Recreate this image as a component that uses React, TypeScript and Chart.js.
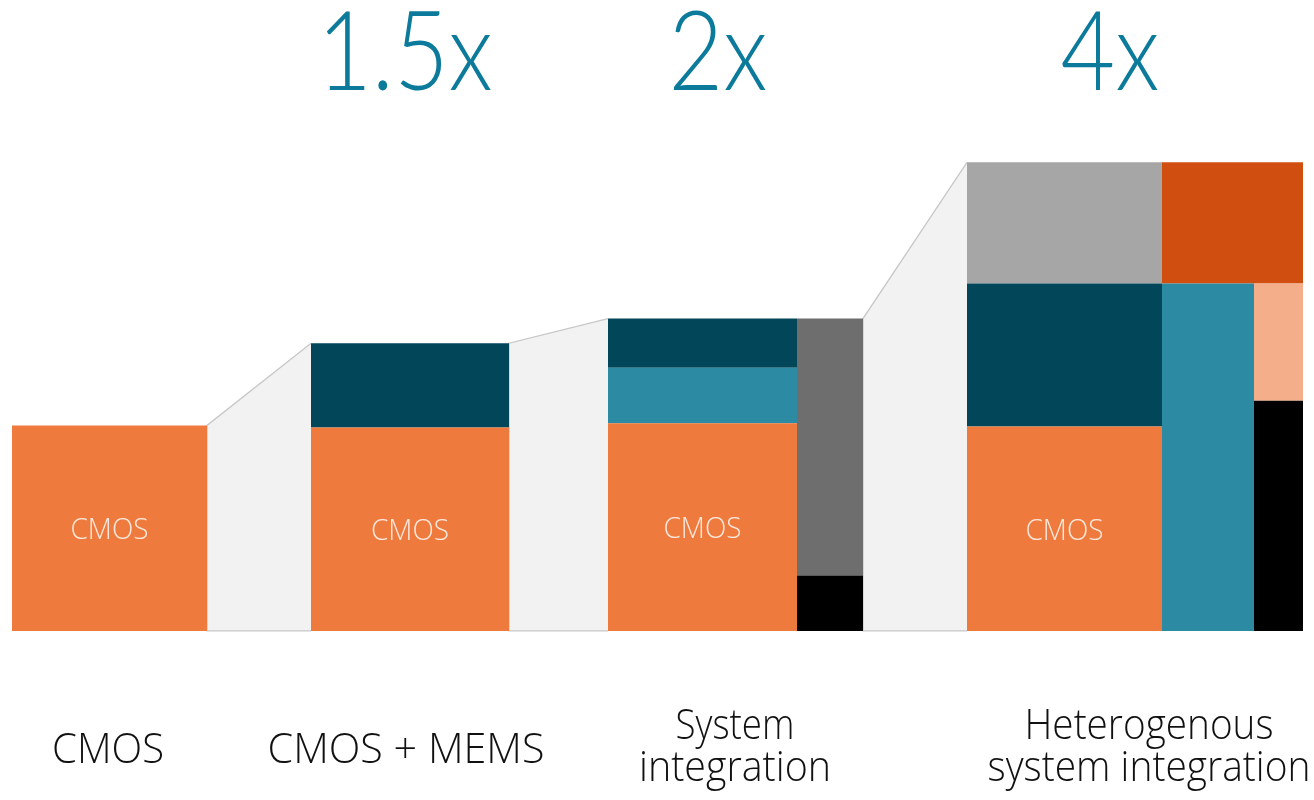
import React, { useEffect, useRef } from "react";
import { Chart, registerables } from "chart.js";

Chart.register(...registerables);

// ---------- DATA ----------
const categories: string[][] = [
  ["CMOS"],
  ["CMOS + MEMS"],
  ["System", "integration"],
  ["Heterogenous", "system integration"],
];
const multipliers = ["", "1.5x", "2x", "4x"];
const innerLabel = "CMOS";

// segment heights, bottom to top (CMOS block = 100)
const cmosOnly = [100]; // orange
const cmosMems = [99, 41]; // orange, dark teal
const sysMain = [101, 27, 24]; // orange, teal, dark teal
const sysSide = [27, 125]; // black, grey
const hetMain = [99.5, 69.5, 59]; // orange, dark teal, light grey
const hetMid = [169]; // teal
const hetRight = [112, 57]; // black, salmon
const hetTopBand = [59]; // red-orange, sits on top of hetMid/hetRight

// ---------- STYLE / LAYOUT ----------
const C = {
  orange: "#EE7A3D",
  dark: "#024659",
  teal: "#2C8AA3",
  grey: "#6E6E6E",
  black: "#000000",
  light: "#A6A6A6",
  red: "#D04F10",
  salmon: "#F4AF8A",
  conFill: "#F2F2F2",
  conLine: "#C8C8C8",
  mult: "#0B7A9B",
};
const FONT = '"Open Sans", "Noto Sans", sans-serif';
const NUM_FONT = 'Lato, "Open Sans", sans-serif';
const W = 1314;
const H = 800;
const X_MAX = 1314;
const Y_MIN = -82.3;
const Y_MAX = 307;

const sum = (a: number[]) => a.reduce((s, v) => s + v, 0);

type Stack = { x0: number; x1: number; values: number[]; colors: string[]; base: number; label?: boolean };
const stacks: Stack[] = [
  { x0: 12, x1: 207, values: cmosOnly, colors: [C.orange], base: 0, label: true },
  { x0: 311, x1: 509, values: cmosMems, colors: [C.orange, C.dark], base: 0, label: true },
  { x0: 608, x1: 797, values: sysMain, colors: [C.orange, C.teal, C.dark], base: 0, label: true },
  { x0: 797, x1: 863, values: sysSide, colors: [C.black, C.grey], base: 0 },
  { x0: 967, x1: 1162, values: hetMain, colors: [C.orange, C.dark, C.light], base: 0, label: true },
  { x0: 1162, x1: 1254, values: hetMid, colors: [C.teal], base: 0 },
  { x0: 1254, x1: 1303, values: hetRight, colors: [C.black, C.salmon], base: 0 },
  { x0: 1162, x1: 1303, values: hetTopBand, colors: [C.red], base: sum(hetMid) },
];
// connectors: from stack a (right edge top) to stack b (left edge top)
const connectors: [number, number][] = [
  [0, 1],
  [1, 2],
  [3, 4],
];
const multX = [0, 405, 718, 1110];
const multW = [0, 156, 93, 95];
const catX = [108, 406, 735, 1149];
const catW: number[][] = [[112], [277], [119, 192], [249, 323]];

function buildDatasets() {
  const ds: any[] = [];
  const top = (s: Stack) => s.base + sum(s.values);
  connectors.forEach(([a, b]) => {
    const A = stacks[a];
    const B = stacks[b];
    ds.push({
      data: [
        { x: A.x1, y: top(A) },
        { x: B.x0, y: top(B) },
      ],
      fill: "origin",
      backgroundColor: C.conFill,
      borderWidth: 0,
      pointRadius: 0,
      order: 20,
    });
    ds.push({
      data: [
        { x: B.x0, y: 0 },
        { x: A.x1, y: 0 },
        { x: A.x1, y: top(A) },
        { x: B.x0, y: top(B) },
      ],
      fill: false,
      borderColor: C.conLine,
      borderWidth: 1.3,
      pointRadius: 0,
      order: 19,
    });
  });
  stacks.forEach((s) => {
    let lo = s.base;
    s.values.forEach((v, i) => {
      const hi = lo + v;
      ds.push({
        data: [
          { x: s.x0, y: hi },
          { x: s.x1, y: hi },
        ],
        fill: lo === 0 ? "origin" : { value: lo },
        backgroundColor: s.colors[i],
        borderWidth: 0,
        pointRadius: 0,
        order: 1,
      });
      lo = hi;
    });
  });
  return ds;
}

// draw text centred at x, squeezed/stretched horizontally to the reference width
function fitText(ctx: CanvasRenderingContext2D, text: string, x: number, y: number, width: number) {
  const m = ctx.measureText(text).width;
  let sx = width > 0 && m > 0 ? width / m : 1;
  sx = Math.max(0.85, Math.min(1.15, sx));
  ctx.save();
  ctx.translate(x, y);
  ctx.scale(sx, 1);
  ctx.fillText(text, 0, 0);
  ctx.restore();
}

const textPlugin = {
  id: "texts",
  afterDraw(chart: any) {
    const { ctx } = chart;
    const xs = chart.scales.x;
    const ys = chart.scales.y;
    ctx.save();
    ctx.textAlign = "center";
    ctx.textBaseline = "alphabetic";
    // inner CMOS labels
    ctx.fillStyle = "#FCE9DD";
    ctx.font = `300 30px ${FONT}`;
    stacks.forEach((s) => {
      if (!s.label) return;
      const v0 = s.base;
      const v1 = s.base + s.values[0];
      const cy = (ys.getPixelForValue(v0) + ys.getPixelForValue(v1)) / 2;
      const cx = (xs.getPixelForValue(s.x0) + xs.getPixelForValue(s.x1)) / 2;
      fitText(ctx, innerLabel, cx, cy + 11, 78);
    });
    // multipliers
    ctx.fillStyle = C.mult;
    ctx.font = `300 111px ${NUM_FONT}`;
    multipliers.forEach((m, i) => {
      if (!m) return;
      fitText(ctx, m, xs.getPixelForValue(multX[i]), 90, multW[i]);
    });
    // category labels
    ctx.fillStyle = "#111111";
    ctx.font = `300 43px ${FONT}`;
    categories.forEach((lines, i) => {
      const x = xs.getPixelForValue(catX[i]);
      if (lines.length === 1) {
        fitText(ctx, lines[0], x, 763, catW[i][0]);
      } else {
        fitText(ctx, lines[0], x, 739, catW[i][0]);
        fitText(ctx, lines[1], x, 781, catW[i][1]);
      }
    });
    ctx.restore();
  },
};

export default function App() {
  const ref = useRef<HTMLCanvasElement | null>(null);
  useEffect(() => {
    document.body.style.margin = "0";
    if (!ref.current) return;
    const chart = new Chart(ref.current, {
      type: "line",
      data: { datasets: buildDatasets() },
      options: {
        animation: false,
        responsive: false,
        devicePixelRatio: 1,
        layout: { padding: 0 },
        plugins: { legend: { display: false }, tooltip: { enabled: false }, title: { display: false } },
        elements: { line: { tension: 0 } },
        scales: {
          x: { type: "linear", min: 0, max: X_MAX, display: false },
          y: { type: "linear", min: Y_MIN, max: Y_MAX, display: false },
        },
      },
      plugins: [textPlugin],
    });
    return () => chart.destroy();
  }, []);
  return (
    <div style={{ position: "fixed", left: 0, top: 0, width: W, height: H, background: "#fff" }}>
      <canvas ref={ref} width={W} height={H} style={{ width: W, height: H, display: "block" }} />
    </div>
  );
}
